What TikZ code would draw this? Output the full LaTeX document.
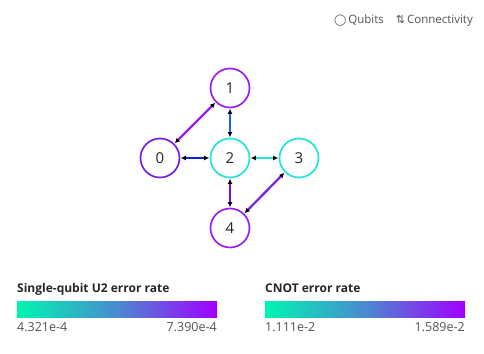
\documentclass[tikz,border=0pt]{standalone}
\usepackage{fontspec}
\setmainfont{Open Sans}
\newfontfamily\symfont{DejaVu Sans}
\usetikzlibrary{arrows.meta}
\definecolor{cA}{HTML}{00F5B0}
\definecolor{cM}{HTML}{4A8AD0}
\definecolor{cB}{HTML}{A000FF}
\definecolor{purA}{HTML}{9A1FF0}
\definecolor{purB}{HTML}{7A1FE0}
\definecolor{cyanN}{HTML}{22E5DA}
\definecolor{edgeBlue}{HTML}{1A60E8}
\definecolor{edgeDark}{HTML}{0A1FE0}
\definecolor{edgePur}{HTML}{7010E0}
\definecolor{txtgray}{HTML}{555555}
\tikzset{
  qubit/.style={circle, draw=#1, line width=1.7pt, minimum size=39pt, inner sep=0pt, font=\fontsize{15}{15}\selectfont, text=black!85},
  link/.style={draw=#1, line width=2.2pt, {Latex[black,length=5pt,width=5pt]}-{Latex[black,length=5pt,width=5pt]}, shorten <=0.5pt, shorten >=0.5pt},
  bartitle/.style={anchor=base west, inner sep=0pt, font=\fontsize{12}{12}\selectfont\bfseries, text=black!85},
  barlabel/.style={inner sep=0pt, font=\fontsize{12.5}{12}\selectfont, text=txtgray},
}
\begin{document}
\begin{tikzpicture}[x=1pt,y=-1pt]
\useasboundingbox (0,0) rectangle (484,353);
\fill[white] (0,0) rectangle (484,353);
% legend top
\node[anchor=base east, inner sep=0pt, font=\fontsize{11.5}{11}\selectfont, text=txtgray] (legend) at (473,24) {{\symfont\fontsize{11}{10}\selectfont ◯}\,Qubits\hspace{12pt}{\symfont\fontsize{11}{10}\selectfont ⇅}\,Connectivity};
% nodes
\node[qubit=purB] (q0) at (160,158) {0};
\node[qubit=purA] (q1) at (230,88) {1};
\node[qubit=cyanN] (q2) at (230,158) {2};
\node[qubit=cyanN] (q3) at (299,158) {3};
\node[qubit=purA] (q4) at (230,228) {4};
% links
\draw[link=purA] (q0) -- (q1);
\draw[link=edgeBlue] (q1) -- (q2);
\draw[link=edgeDark] (q0) -- (q2);
\draw[link=cyanN] (q2) -- (q3);
\draw[link=edgePur] (q2) -- (q4);
\draw[link=purB] (q3) -- (q4);
% color bars
\node[bartitle] (t1) at (17,292) {Single-qubit U2 error rate};
\shade[left color=cA, right color=cB, middle color=cM] (17,301) rectangle (217,317);
\node[barlabel, anchor=base west] (l1a) at (17,331) {4.321e-4};
\node[barlabel, anchor=base east] (l1b) at (217,331) {7.390e-4};
\node[bartitle] (t2) at (265,292) {CNOT error rate};
\shade[left color=cA, right color=cB, middle color=cM] (265,301) rectangle (465,317);
\node[barlabel, anchor=base west] (l2a) at (265,331) {1.111e-2};
\node[barlabel, anchor=base east] (l2b) at (465,331) {1.589e-2};
\end{tikzpicture}
\end{document}
